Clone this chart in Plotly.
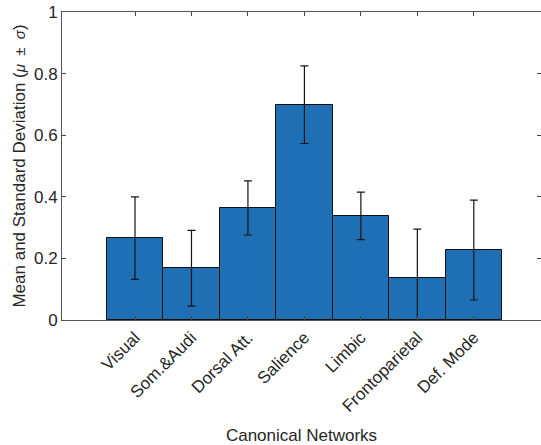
import plotly.graph_objects as go

categories = ["Visual", "Som.&Audi", "Dorsal Att.", "Salience", "Limbic", "Frontoparietal", "Def. Mode"]
means = [0.266, 0.168, 0.364, 0.699, 0.338, 0.136, 0.227]
stds = [0.134, 0.123, 0.088, 0.126, 0.077, 0.159, 0.162]
ytick_vals = [0, 0.2, 0.4, 0.6, 0.8, 1]
ytick_text = ["0", "0.2", "0.4", "0.6", "0.8", "1"]

W, H = 541, 445
ml, mr, mt, mb = 62, 0, 12, 125

fig = go.Figure()
fig.add_trace(go.Bar(
    x=categories, y=means,
    marker=dict(color="#1f6fb4", line=dict(color="#101010", width=1)),
    error_y=dict(type="data", array=stds, arrayminus=stds, visible=True,
                 color="#151515", thickness=1.2, width=4),
    width=1.0,
))

font = "Liberation Sans, Arial, Helvetica, sans-serif"
fig.update_layout(
    width=W, height=H,
    margin=dict(l=ml, r=mr, t=mt, b=mb, pad=0, autoexpand=False),
    paper_bgcolor="white", plot_bgcolor="white",
    font=dict(family=font, size=17, color="#262626"),
    showlegend=False,
    bargap=0,
    xaxis=dict(
        range=[-1.293, 7.19],
        automargin=False,
        tickangle=-45,
        ticks="inside", ticklen=4, tickcolor="#444444", tickwidth=1,
        showline=True, linecolor="#555555", linewidth=1, mirror="ticks",
        showgrid=False, zeroline=False,
        tickfont=dict(size=17, color="#262626"),
        title=dict(text="Canonical Networks", font=dict(size=17, color="#262626"), standoff=14),
    ),
    yaxis=dict(
        range=[0, 1],
        automargin=False,
        ticklabeloverflow="allow",
        tickvals=ytick_vals, ticktext=ytick_text,
        ticks="inside", ticklen=4, tickcolor="#444444", tickwidth=1,
        showline=True, linecolor="#555555", linewidth=1, mirror="ticks",
        showgrid=False, zeroline=False,
        tickfont=dict(size=17, color="#262626"),
        title=dict(text="Mean and Standard Deviation (<span style='font-size:15px'><i>μ</i>&nbsp;&nbsp;±&nbsp;&nbsp;<i>σ</i></span>)",
                   font=dict(size=17, color="#262626"), standoff=4),
    ),
)

fig.write_html("out.html", config={"displayModeBar": False},
               post_script="document.body.style.margin='0';")
